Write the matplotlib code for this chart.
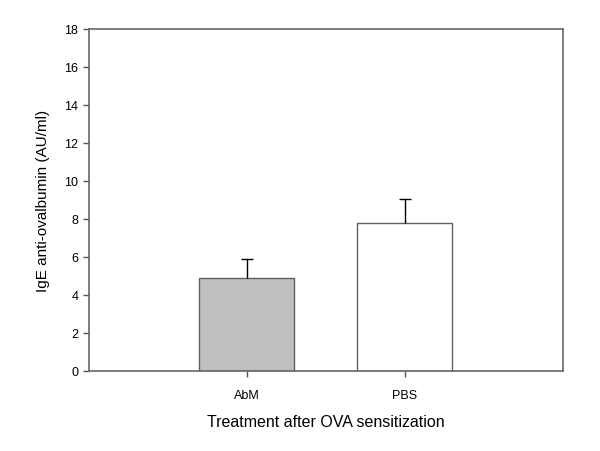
import matplotlib
matplotlib.use('Agg')
import matplotlib.pyplot as plt

plt.rcParams['font.family'] = ['Liberation Sans', 'DejaVu Sans']

# Дані
groups = ['AbM', 'PBS']
means = [4.88, 7.78]
errors = [1.0, 1.27]
colors = ['#c0c0c0', '#ffffff']

fig = plt.figure(figsize=(6, 4.52), dpi=100)
ax = fig.add_axes([0.148, 0.177, 0.79, 0.757])

pos = [1, 2]
ax.bar(pos, means, width=0.6, color=colors, edgecolor='#606060', linewidth=1.0, zorder=2)
eb = ax.errorbar(pos, means, yerr=[[0, 0], errors], fmt='none', ecolor='black',
                 elinewidth=1.0, capsize=4, capthick=1.0, zorder=3)
# лише верхня "шапка" похибки
eb[1][0].set_visible(False)

ax.set_xlim(0, 3)
ax.set_ylim(0, 18)
ax.set_xticks(pos)
ax.set_xticklabels(groups, fontsize=9)
ax.set_yticks(range(0, 19, 2))
ax.tick_params(axis='y', labelsize=9)
ax.tick_params(direction='out', length=4, color='#555555', width=1.0)
ax.tick_params(axis='x', pad=9)

for s in ax.spines.values():
    s.set_color('#666666')
    s.set_linewidth(1.2)

ax.set_xlabel('Treatment after OVA sensitization', fontsize=11.5, labelpad=9)
ax.set_ylabel('IgE anti-ovalbumin (AU/ml)', fontsize=11, labelpad=10)

fig.savefig('out.png', dpi=100)
